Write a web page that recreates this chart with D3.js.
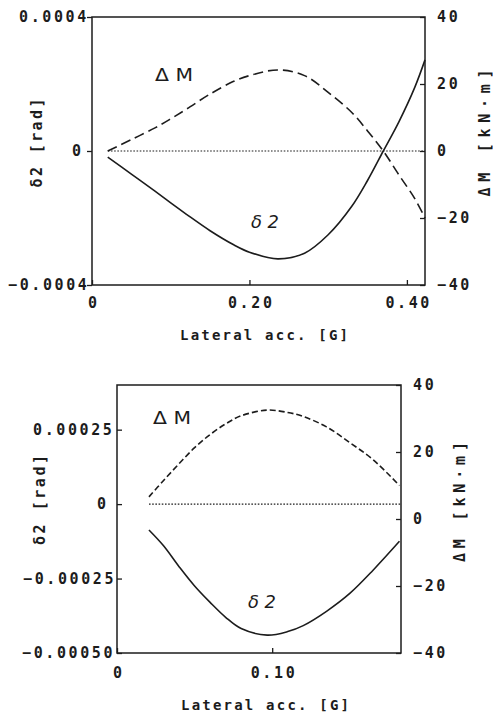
<!DOCTYPE html>
<html><head><meta charset="utf-8">
<script src="https://cdn.jsdelivr.net/npm/d3@7"></script>
<style>body{margin:0;background:#fff}svg{display:block}</style>
</head><body>
<svg id="c" width="493" height="714"></svg>
<script>
// ---------- upper panel data ----------
const topAcc    = [0.02, 0.05, 0.08, 0.10, 0.12, 0.15, 0.18, 0.20, 0.236, 0.27, 0.30, 0.33, 0.35, 0.37, 0.39, 0.41, 0.423];
const topDelta2 = [-0.000018, -0.000069, -0.000120, -0.000155, -0.000189, -0.000238, -0.000280, -0.000302, -0.000322, -0.000305, -0.000250, -0.000165, -0.000088, 0.0, 0.000088, 0.000190, 0.000272];
const topDeltaM = [0, 3.4, 6.9, 9.6, 12.5, 17.0, 20.8, 22.5, 24.2, 22.5, 17.5, 11.5, 6.0, 0, -7.2, -14.2, -20.0];
const topXTicks = [0, 0.2, 0.4];
const topXTickLabels = ["0", "0.20", "0.40"];
const topLeftTicks = [0.0004, 0, -0.0004];
const topLeftTickLabels = ["0.0004", "0", "\u22120.0004"];

// ---------- lower panel data ----------
const botAcc    = [0.0206, 0.03, 0.04, 0.05, 0.06, 0.07, 0.08, 0.0968, 0.11, 0.12, 0.135, 0.15, 0.165, 0.182];
const botDelta2 = [-0.000087, -0.000140, -0.000210, -0.000275, -0.000330, -0.000380, -0.000418, -0.000440, -0.000428, -0.000408, -0.000360, -0.000300, -0.000222, -0.000125];
const botDeltaM = [6.6, 11.5, 16.5, 21.3, 25.2, 28.4, 30.8, 32.5, 31.8, 30.6, 27.5, 22.8, 17.7, 10.0];
const botXTicks = [0, 0.1];
const botXTickLabels = ["0", "0.10"];
const botLeftTicks = [0.00025, 0, -0.00025, -0.0005];
const botLeftTickLabels = ["0.00025", "0", "\u22120.00025", "\u22120.00050"];

// ---------- shared right axis ----------
const rightTicks = [40, 20, 0, -20, -40];
const rightTickLabels = ["40", "20", "0", "\u221220", "\u221240"];

const xTitle = "Lateral acc. [G]";
const leftTitle = "\u03b42 [rad]";
const rightTitle = "\u0394M [kN\u00b7m]";
const dmLabel = "\u0394 M";
const d2Label = "\u03b4 2";

const INK = "#1c1c1c";
const MONO = "'DejaVu Sans Mono', monospace";
const svg = d3.select("#c");

function panel(cfg) {
  const {l, t, r, b} = cfg.box;
  const x = d3.scaleLinear().domain(cfg.xDomain).range([l, r]);
  const yl = d3.scaleLinear().domain(cfg.leftDomain).range([b, t]);
  const yr = d3.scaleLinear().domain([-40, 40]).range([b, t]);
  const g = svg.append("g");

  // frame
  g.append("rect").attr("x", l).attr("y", t).attr("width", r - l).attr("height", b - t)
    .attr("fill", "none").attr("stroke", INK).attr("stroke-width", 1.5);

  const styleText = sel => sel.attr("font-family", MONO).attr("font-size", 15)
    .attr("font-weight", "bold").attr("letter-spacing", 2.6).attr("fill", INK);

  // bottom axis
  const ax = g.append("g").attr("transform", `translate(0,${b})`)
    .call(d3.axisBottom(x).tickValues(cfg.xTicks).tickFormat((d, i) => cfg.xLabels[i])
      .tickSizeInner(-5).tickSizeOuter(0).tickPadding(cfg.xPad));
  ax.select(".domain").remove();
  ax.selectAll(".tick line").attr("stroke", INK).attr("stroke-width", 1.3);
  ax.selectAll(".tick text").call(styleText).attr("dx", 1.3);

  // left axis
  const al = g.append("g").attr("transform", `translate(${l},0)`)
    .call(d3.axisLeft(yl).tickValues(cfg.lTicks).tickFormat((d, i) => cfg.lLabels[i])
      .tickSizeInner(cfg.lTickSize).tickSizeOuter(0));
  al.select(".domain").remove();
  al.selectAll(".tick line").attr("stroke", INK).attr("stroke-width", 1.3);
  al.selectAll(".tick text").call(styleText).attr("text-anchor", "start")
    .attr("x", (d, i) => cfg.lLabelStart[i]).attr("dy", "0.3em");

  // right axis
  const ar = g.append("g").attr("transform", `translate(${r},0)`)
    .call(d3.axisRight(yr).tickValues(rightTicks).tickFormat((d, i) => rightTickLabels[i])
      .tickSizeInner(-5).tickSizeOuter(0));
  ar.select(".domain").remove();
  ar.selectAll(".tick line").attr("stroke", INK).attr("stroke-width", 1.3);
  ar.selectAll(".tick text").call(styleText).attr("text-anchor", "start")
    .attr("x", 12).attr("dy", "0.3em");

  // zero reference (dotted)
  g.append("line").attr("x1", x(cfg.acc[0])).attr("x2", r).attr("y1", yl(0)).attr("y2", yl(0))
    .attr("stroke", INK).attr("stroke-width", 1.2).attr("stroke-dasharray", "1.6,1.6");

  const lineL = d3.line().x((d, i) => x(cfg.acc[i])).y(d => yl(d)).curve(d3.curveCatmullRom);
  const lineR = d3.line().x((d, i) => x(cfg.acc[i])).y(d => yr(d)).curve(d3.curveCatmullRom);

  g.append("path").attr("d", lineL(cfg.d2)).attr("fill", "none").attr("stroke", INK).attr("stroke-width", 1.6);
  g.append("path").attr("d", lineR(cfg.dm)).attr("fill", "none").attr("stroke", INK).attr("stroke-width", 1.6)
    .attr("stroke-dasharray", cfg.dash);

  // curve labels
  g.append("text").text(dmLabel).attr("x", cfg.dmPos[0]).attr("y", cfg.dmPos[1])
    .attr("font-family", "'DejaVu Sans', sans-serif").attr("font-size", 18).attr("fill", INK)
    .attr("textLength", 38).attr("lengthAdjust", "spacingAndGlyphs");
  g.append("text").text(d2Label).attr("x", cfg.d2Pos[0]).attr("y", cfg.d2Pos[1])
    .attr("font-family", "'DejaVu Sans', sans-serif").attr("font-style", "italic").attr("font-size", 17)
    .attr("fill", INK).attr("textLength", 28).attr("lengthAdjust", "spacingAndGlyphs");

  // titles
  g.append("text").text(xTitle).attr("x", cfg.xTitle[0]).attr("y", cfg.xTitle[1])
    .attr("text-anchor", "middle").attr("font-family", MONO).attr("font-size", 14).attr("font-weight", "bold")
    .attr("fill", INK).attr("textLength", 168).attr("lengthAdjust", "spacing");
  g.append("text").text(leftTitle)
    .attr("transform", `translate(${cfg.lTitle[0]},${cfg.lTitle[1]}) rotate(-90)`)
    .attr("text-anchor", "middle").attr("dy", "0.35em").attr("font-family", MONO).attr("font-size", 15)
    .attr("font-weight", "bold").attr("fill", INK).attr("textLength", cfg.lTitle[2]).attr("lengthAdjust", "spacing");
  g.append("text").text(rightTitle)
    .attr("transform", `translate(${cfg.rTitle[0]},${cfg.rTitle[1]}) rotate(-90)`)
    .attr("text-anchor", "middle").attr("dy", "0.35em").attr("font-family", MONO).attr("font-size", 15)
    .attr("font-weight", "bold").attr("fill", INK).attr("textLength", cfg.rTitle[2]).attr("lengthAdjust", "spacing");
}

panel({
  box: {l: 92, t: 17, r: 425, b: 285},
  xDomain: [0, 0.423], leftDomain: [-0.0004, 0.0004],
  acc: topAcc, d2: topDelta2, dm: topDeltaM,
  xTicks: topXTicks, xLabels: topXTickLabels, xPad: 12,
  lTicks: topLeftTicks, lLabels: topLeftTickLabels, lTickSize: 5,
  lLabelStart: [-73, -20, -84],
  dash: "10,5",
  dmPos: [155, 81], d2Pos: [251, 228],
  xTitle: [264, 340], lTitle: [37, 143, 89], rTitle: [485, 133, 127]
});

panel({
  box: {l: 117, t: 385, r: 401, b: 653},
  xDomain: [0, 0.183], leftDomain: [-0.0005, 0.0004],
  acc: botAcc, d2: botDelta2, dm: botDeltaM,
  xTicks: botXTicks, xLabels: botXTickLabels, xPad: 14,
  lTicks: botLeftTicks, lLabels: botLeftTickLabels, lTickSize: -5,
  lLabelStart: [-84, -20, -94, -95],
  dash: "6,3",
  dmPos: [153, 424], d2Pos: [248, 608],
  xTitle: [265, 710], lTitle: [40, 500, 90], rTitle: [460, 502, 120]
});
</script>
</body></html>
